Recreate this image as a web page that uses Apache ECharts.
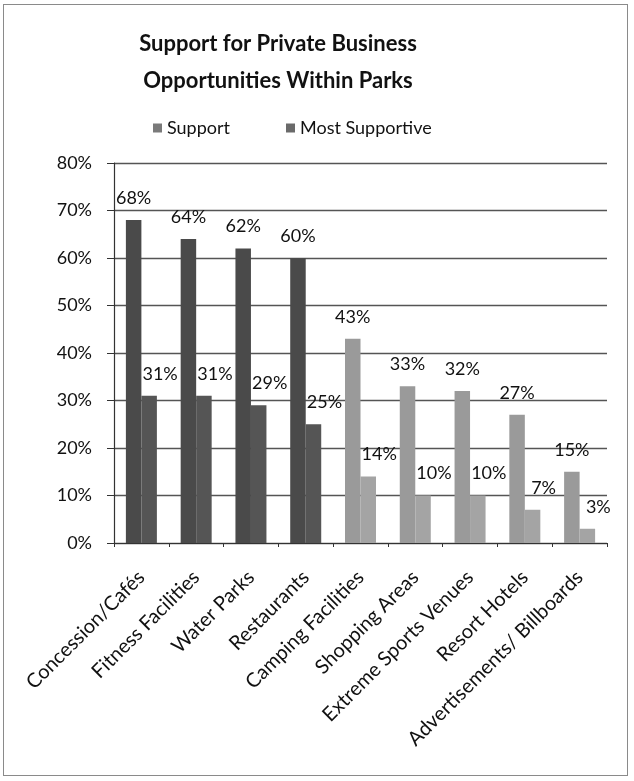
<!DOCTYPE html>
<html>
<head>
<meta charset="utf-8">
<script src="https://cdn.jsdelivr.net/npm/echarts@6/dist/echarts.min.js"></script>
<style>
  html, body { margin: 0; padding: 0; background: #fff; }
  #frame { position: absolute; left: 3px; top: 4px; width: 625px; height: 772px; border: 1px solid #8a8a8a; box-sizing: border-box; }
  #chart { position: absolute; left: 0; top: 0; width: 634px; height: 781px; }
</style>
</head>
<body>
<div id="frame"></div>
<div id="chart"></div>
<script>
const categories = ['Concession/Cafés', 'Fitness Facilities', 'Water Parks', 'Restaurants', 'Camping Facilities', 'Shopping Areas', 'Extreme Sports Venues', 'Resort Hotels', 'Advertisements/ Billboards'];
const support = [68, 64, 62, 60, 43, 33, 32, 27, 15];
const mostSupportive = [31, 31, 29, 25, 14, 10, 10, 7, 3];
const yTicks = [0, 10, 20, 30, 40, 50, 60, 70, 80];

const FONT = 'Lato';
const darkS = '#4a4a4a', darkM = '#555555', lightS = '#9a9a9a', lightM = '#a4a4a4';

const chart = echarts.init(document.getElementById('chart'), null, { renderer: 'canvas' });
chart.setOption({
  backgroundColor: 'transparent',
  animation: false,
  textStyle: { fontFamily: FONT },
  title: {
    text: 'Support for Private Business\nOpportunities Within Parks',
    left: 273,
    textAlign: 'center',
    top: 20,
    textStyle: { fontFamily: FONT, fontSize: 22, fontWeight: 'bold', color: '#111', lineHeight: 37 }
  },
  legend: {
    top: 114,
    left: 148,
    itemWidth: 9,
    itemHeight: 9,
    itemGap: 56,
    icon: 'rect',
    textStyle: { fontFamily: FONT, fontSize: 18, color: '#111' },
    data: ['Support', 'Most Supportive']
  },
  grid: { left: 114, right: 27, top: 163, bottom: 238, containLabel: false },
  xAxis: {
    type: 'category',
    data: categories,
    axisLine: { lineStyle: { color: '#333', width: 1.2 } },
    axisTick: { show: true, length: 4, lineStyle: { color: '#333' } },
    axisLabel: { rotate: 45, margin: 31, fontFamily: FONT, fontSize: 20, color: '#111', interval: 0 }
  },
  yAxis: {
    type: 'value',
    min: yTicks[0],
    max: yTicks[yTicks.length - 1],
    interval: 10,
    axisLine: { show: true, lineStyle: { color: '#333', width: 1.2 } },
    axisTick: { show: true, length: 7, lineStyle: { color: '#333' } },
    axisLabel: { formatter: '{value}%', fontFamily: FONT, fontSize: 18, color: '#111', margin: 22 },
    splitLine: { lineStyle: { color: '#555', width: 1.4 } }
  },
  series: [
    {
      name: 'Support',
      type: 'bar',
      barWidth: 15.5,
      barGap: '0%',
      color: '#7a7a7a',
      data: support.map((v, i) => ({ value: v, itemStyle: { color: i < 4 ? darkS : lightS } })),
      label: { show: true, position: 'top', distance: 13, formatter: '{c}%', fontFamily: FONT, fontSize: 18, color: '#111' }
    },
    {
      name: 'Most Supportive',
      type: 'bar',
      barWidth: 15.5,
      color: '#6a6a6a',
      data: mostSupportive.map((v, i) => ({ value: v, itemStyle: { color: i < 4 ? darkM : lightM } })),
      label: { show: true, position: 'top', distance: 13, offset: [11, 0], formatter: '{c}%', fontFamily: FONT, fontSize: 18, color: '#111' }
    }
  ]
});
</script>
</body>
</html>
